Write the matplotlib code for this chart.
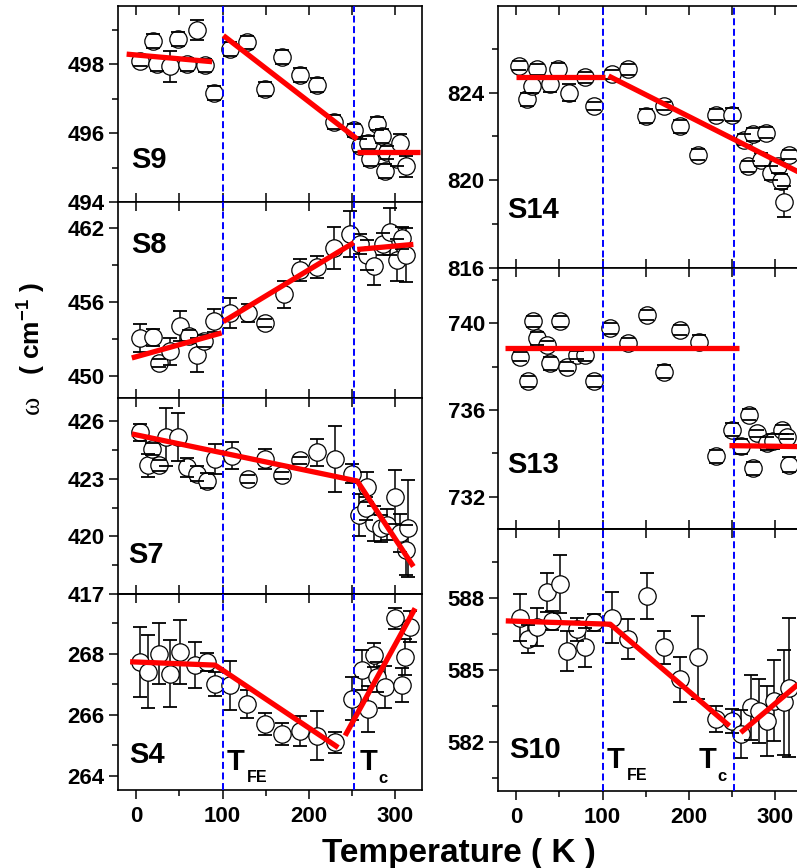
import matplotlib
matplotlib.use("Agg")
import matplotlib.pyplot as plt
from matplotlib.ticker import FixedLocator, MultipleLocator

plt.rcParams.update({
    "font.family": "Liberation Sans",
    "font.weight": "bold",
    "mathtext.fontset": "custom",
    "mathtext.rm": "Liberation Sans:bold",
    "mathtext.bf": "Liberation Sans:bold",
    "mathtext.it": "Liberation Sans:bold",
    "lines.scale_dashes": False,
})

# ---------------- data: temperature (K), phonon frequency (cm^-1), error ----------------
s9_T = [5, 20, 24, 39, 49, 59, 71, 80, 90, 109, 128, 149, 169, 190, 209, 229, 252,
        259, 269, 271, 279, 285, 288, 290, 302, 306, 313]
s9_w = [498.10, 498.69, 498.00, 497.95, 498.74, 498.00, 499.00, 497.97, 497.16, 498.44,
        498.64, 497.29, 498.22, 497.70, 497.41, 496.33, 496.08, 495.64, 495.73, 495.24,
        496.28, 495.93, 494.90, 495.44, 495.24, 495.73, 495.04]
s9_err = [0.15, 0.2, 0.2, 0.45, 0.2, 0.2, 0.3, 0.2, 0.2, 0.2, 0.2, 0.2, 0.2, 0.2, 0.2,
          0.2, 0.2, 0.2, 0.2, 0.2, 0.2, 0.2, 0.2, 0.2, 0.2, 0.25, 0.3]
s9_fit = [[(-11, 498.30), (88, 498.08)],
          [(101, 498.84), (256, 495.83)],
          [(256, 495.44), (329, 495.44)]]

s8_T = [5, 20, 26, 39, 51, 61, 70, 78, 90, 109, 130, 149, 171, 190, 209, 229, 248,
        259, 267, 275, 286, 294, 302, 308, 313]
s8_w = [453.07, 453.13, 451.04, 452.00, 454.02, 453.20, 451.70, 452.80, 454.48, 455.10,
        455.10, 454.30, 456.60, 458.60, 458.80, 460.40, 461.50, 460.70, 459.80, 458.90,
        460.70, 461.70, 459.40, 461.20, 459.80]
s8_err = [1.1, 0.7, 0.3, 1.1, 1.2, 0.5, 1.4, 0.5, 0.9, 1.2, 0.7, 0.3, 1.1, 0.9, 0.9,
          1.7, 1.9, 0.8, 1.2, 1.5, 0.9, 1.9, 1.7, 0.9, 2.2]
s8_fit = [[(-5, 451.45), (99, 453.48)],
          [(101, 454.40), (252, 460.80)],
          [(256, 460.25), (321, 460.66)]]

s7_T = [5, 14, 18, 26, 34, 49, 59, 70, 82, 91, 111, 130, 149, 169, 190, 209, 230, 250,
        258, 266, 267, 275, 283, 290, 300, 306, 313, 315]
s7_w = [425.41, 423.69, 424.55, 423.69, 425.16, 425.16, 423.60, 423.26, 422.90, 424.03,
        424.20, 423.00, 424.03, 423.17, 423.95, 424.38, 424.03, 423.26, 421.10, 421.45,
        422.57, 420.67, 420.41, 420.60, 422.05, 420.16, 419.30, 420.41]
s7_err = [0.45, 0.6, 0.3, 0.3, 1.5, 1.25, 0.5, 0.4, 0.4, 0.8, 0.7, 0.2, 0.5, 0.2, 0.2,
          0.7, 1.7, 0.5, 1.1, 0.6, 0.8, 0.9, 0.7, 0.8, 1.4, 1.0, 1.3, 2.5]
s7_fit = [[(-5, 425.33), (256, 422.88), (321, 418.43)]]

s4_T = [5, 14, 26, 39, 51, 68, 82, 91, 109, 128, 149, 169, 190, 209, 230, 250, 261,
        269, 275, 279, 288, 300, 308, 311, 317]
s4_w = [267.73, 267.40, 268.00, 267.34, 268.05, 267.62, 267.73, 267.00, 266.96, 266.35,
        265.69, 265.36, 265.47, 265.31, 265.09, 266.52, 267.45, 266.19, 267.95, 267.23,
        266.90, 269.15, 266.96, 267.89, 268.88]
s4_err = [1.15, 1.2, 1.0, 1.1, 1.05, 0.75, 0.3, 0.4, 0.8, 0.45, 0.35, 0.35, 0.5, 0.8,
          0.35, 0.7, 0.65, 0.75, 0.4, 0.5, 0.7, 0.35, 0.55, 0.6, 0.5]
s4_fit = [[(-7, 267.73), (91.5, 267.62), (234, 264.92)],
          [(242, 265.31), (323, 269.48)]]

s14_T = [3, 12, 18, 24, 39, 49, 61, 80, 90, 111, 130, 150, 171, 190, 210, 231, 250,
         264, 268, 274, 283, 289, 295, 303, 307, 310, 316]
s14_w = [825.22, 823.69, 824.31, 825.07, 824.38, 825.07, 824.00, 824.69, 823.39, 824.84,
         825.07, 822.93, 823.39, 822.47, 821.17, 823.00, 823.00, 821.86, 820.64, 822.09,
         820.94, 822.17, 820.33, 820.64, 819.95, 819.03, 821.17]
s14_err = [0.2, 0.3, 0.35, 0.25, 0.35, 0.3, 0.4, 0.25, 0.2, 0.2, 0.25, 0.3, 0.2, 0.3,
           0.25, 0.25, 0.3, 0.25, 0.25, 0.3, 0.3, 0.25, 0.3, 0.3, 0.35, 0.7, 0.2]
s14_fit = [[(0, 824.69), (103, 824.69)],
           [(107, 824.76), (335, 820.22)]]

s13_T = [5, 14, 20, 24, 36, 39, 51, 59, 70, 80, 90, 109, 130, 152, 171, 190, 212,
         231, 250, 260, 270, 274, 279, 291, 297, 308, 314, 316]
s13_w = [738.46, 737.31, 740.08, 739.31, 739.00, 738.15, 740.08, 738.00, 738.54, 738.54,
         737.31, 739.77, 739.08, 740.38, 737.77, 739.69, 739.15, 733.85, 735.08, 734.31,
         735.77, 733.31, 734.92, 734.46, 734.54, 735.08, 734.77, 733.46]
s13_err = [0.2, 0.25, 0.25, 0.3, 0.2, 0.3, 0.25, 0.2, 0.2, 0.3, 0.25, 0.25, 0.25, 0.25,
           0.3, 0.25, 0.3, 0.3, 0.3, 0.35, 0.25, 0.3, 0.15, 0.3, 0.35, 0.2, 0.1, 0.35]
s13_fit = [[(-13, 738.85), (258, 738.85)],
           [(247, 734.35), (335, 734.30)]]

s10_T = [5, 14, 24, 36, 41, 51, 59, 70, 80, 90, 111, 130, 152, 171, 190, 210, 231,
         250, 260, 272, 281, 291, 299, 310, 316]
s10_w = [587.20, 586.30, 586.80, 588.25, 587.06, 588.60, 585.80, 586.70, 585.95, 587.00,
         587.20, 586.30, 588.10, 585.95, 584.62, 585.53, 582.95, 582.88, 582.32, 583.44,
         583.30, 582.88, 583.72, 583.65, 584.27]
s10_err = [1.0, 0.6, 0.8, 0.8, 0.4, 1.2, 0.85, 0.5, 0.8, 0.35, 1.05, 0.85, 0.95, 0.7,
           0.95, 1.75, 0.55, 0.5, 1.0, 1.35, 1.35, 1.45, 1.7, 2.2, 2.9]
s10_fit = [[(-12, 587.06), (109, 586.92), (247, 582.67)],
           [(260, 582.39), (335, 584.67)]]

T_FE = 100
T_C = 252
x_ticks = [0, 100, 200, 300]

# ---------------- figure ----------------
W, H = 797, 868
fig = plt.figure(figsize=(W / 100, H / 100), dpi=100)


def make_axes(x0, y0, x1, y1):
    return fig.add_axes([x0 / W, 1 - y1 / H, (x1 - x0) / W, (y1 - y0) / H])


def draw_panel(ax, name, T, w, err, fit, ylim, yticks, yminor, label_pos,
               bottom=False):
    ax.set_xlim(-21, 331)
    ax.set_ylim(*ylim)
    ax.axvline(T_FE, color="#0000ff", lw=1.4, dashes=(5, 2.6), zorder=5)
    ax.axvline(T_C, color="#0000ff", lw=1.4, dashes=(5, 2.6), zorder=5)
    eb = ax.errorbar(T, w, yerr=err, fmt="none", ecolor="black", elinewidth=1.1,
                     capsize=5, capthick=1.3, zorder=2)
    for cap in eb[1]:
        cap.set_zorder(4)
    ax.plot(T, w, "o", ms=12.5, mfc="white", mec="black", mew=0.9, ls="none", zorder=3)
    for seg in fit:
        ax.plot([p[0] for p in seg], [p[1] for p in seg], color="#ff0000", lw=3.8,
                solid_capstyle="butt", zorder=6)
    ax.text(label_pos[0], label_pos[1], name, transform=ax.transAxes, fontsize=21,
            fontweight="bold", ha="left", va="baseline", zorder=7)

    for sp in ax.spines.values():
        sp.set_linewidth(1.2)
    ax.yaxis.set_major_locator(FixedLocator(yticks))
    ax.yaxis.set_minor_locator(FixedLocator(yminor))
    ax.tick_params(axis="y", which="both", direction="out", left=True, right=False,
                   width=1.1, labelsize=16, pad=3)
    ax.tick_params(axis="y", which="major", length=6.5)
    ax.tick_params(axis="y", which="minor", length=4)
    ax.xaxis.set_major_locator(FixedLocator(x_ticks))
    ax.xaxis.set_minor_locator(MultipleLocator(50))
    if bottom:
        ax.tick_params(axis="x", which="both", direction="out", top=False,
                       bottom=True, width=1.1, labelsize=16, pad=5)
        ax.tick_params(axis="x", which="major", length=6.5)
        ax.tick_params(axis="x", which="minor", length=4)
        sec = ax.secondary_xaxis("top")
        sec.xaxis.set_major_locator(MultipleLocator(50))
        sec.tick_params(axis="x", direction="in", length=6.5, width=1.1,
                        labeltop=False)
        sec.spines["top"].set_linewidth(1.2)
    else:
        ax.tick_params(axis="x", which="both", direction="in", top=True, bottom=True,
                       width=1.1, length=6.5, labelbottom=False)


def transition_labels(ax, x_fe, x_c, y):
    ax.text(x_fe, y, "T", transform=ax.transAxes, fontsize=21, ha="left",
            va="baseline")
    ax.annotate("FE", xy=(x_fe, y), xycoords="axes fraction", xytext=(14.5, -8.5),
                textcoords="offset points", fontsize=11.5, ha="left", va="baseline")
    ax.text(x_c, y, "T", transform=ax.transAxes, fontsize=21, ha="left",
            va="baseline")
    ax.annotate("c", xy=(x_c, y), xycoords="axes fraction", xytext=(13.5, -9.5),
                textcoords="offset points", fontsize=12, ha="left", va="baseline")


# left column
ax9 = make_axes(118, 6, 422, 202)
draw_panel(ax9, "S9", s9_T, s9_w, s9_err, s9_fit, (494, 499.7), [494, 496, 498],
           [495, 497, 499], (0.045, 0.175))
ax8 = make_axes(118, 202, 422, 398)
draw_panel(ax8, "S8", s8_T, s8_w, s8_err, s8_fit, (448.2, 464.1), [450, 456, 462],
           [453, 459], (0.045, 0.738))
ax7 = make_axes(118, 398, 422, 594)
draw_panel(ax7, "S7", s7_T, s7_w, s7_err, s7_fit, (417, 427.2), [417, 420, 423, 426],
           [418.5, 421.5, 424.5], (0.034, 0.157))
ax4 = make_axes(118, 594, 422, 790)
draw_panel(ax4, "S4", s4_T, s4_w, s4_err, s4_fit, (263.53, 269.95), [264, 266, 268],
           [265, 267, 269], (0.037, 0.136), bottom=True)
transition_labels(ax4, 0.358, 0.796, 0.102)

# right column (its right edge runs past the figure border)
ax14 = make_axes(498, 6, 802, 268)
draw_panel(ax14, "S14", s14_T, s14_w, s14_err, s14_fit, (816, 827.95),
           [816, 820, 824], [818, 822, 826], (0.031, 0.19))
ax13 = make_axes(498, 268, 802, 529)
draw_panel(ax13, "S13", s13_T, s13_w, s13_err, s13_fit, (730.5, 742.55),
           [732, 736, 740], [734, 738, 742], (0.029, 0.213))
ax10 = make_axes(498, 529, 802, 791)
draw_panel(ax10, "S10", s10_T, s10_w, s10_err, s10_fit, (579.95, 590.9),
           [582, 585, 588], [580.5, 583.5, 586.5, 589.5], (0.037, 0.125), bottom=True)
transition_labels(ax10, 0.357, 0.659, 0.087)

# axis titles
fig.text(459 / W, 1 - 862 / H, "Temperature ( K )", fontsize=24, ha="center",
         va="baseline")
fig.text(32 / W, 1 - 405 / H, "\u03c9", family="Liberation Serif", fontweight="normal",
         fontsize=20, rotation=90, ha="center", va="center")
fig.text(32 / W, 1 - 328 / H, "( cm$^{-1}$ )", fontsize=19, rotation=90, ha="center",
         va="center")

fig.savefig("out.png", dpi=100)
